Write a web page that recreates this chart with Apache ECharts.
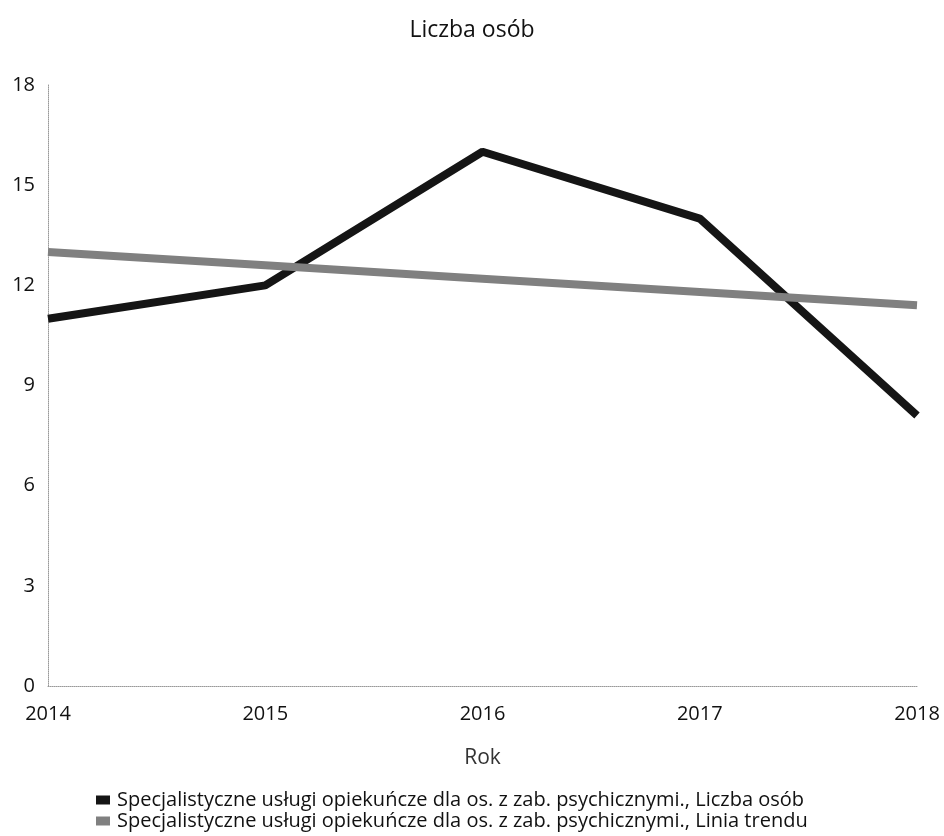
<!DOCTYPE html>
<html><head><meta charset="utf-8">
<script src="https://cdn.jsdelivr.net/npm/echarts@6/dist/echarts.min.js"></script>
<style>html,body{margin:0;padding:0;background:#fff}#c{width:944px;height:836px}</style>
</head><body><div id="c"></div>
<script>
const years = ['2014','2015','2016','2017','2018'];
const liczbaOsob = [11, 12, 16, 14, 8.1];
const liniaTrendu = [13.0, 12.6, 12.2, 11.8, 11.4];
const yTicks = [0, 3, 6, 9, 12, 15, 18];
const seriesNames = [
  'Specjalistyczne usługi opiekuńcze dla os. z zab. psychicznymi., Liczba osób',
  'Specjalistyczne usługi opiekuńcze dla os. z zab. psychicznymi., Linia trendu'
];
const font = '"Open Sans", "Noto Sans", sans-serif';
const chart = echarts.init(document.getElementById('c'));
chart.setOption({
  animation: false,
  backgroundColor: '#fff',
  textStyle: {fontFamily: font},
  title: {text: 'Liczba osób', left: 'center', top: 14,
    textStyle: {fontFamily: font, fontSize: 23, fontWeight: 'normal', color: '#111'}},
  legend: {
    orient: 'vertical', left: 96, top: 790, itemGap: 1, padding: 0, height: 46,
    itemWidth: 14, itemHeight: 9, icon: 'rect',
    textStyle: {fontFamily: font, fontSize: 20, lineHeight: 20, color: '#111', padding: [0,0,0,2]},
    data: seriesNames
  },
  grid: {left: 48, right: 27, top: 85, bottom: 150},
  xAxis: {
    type: 'category', data: years, boundaryGap: false,
    name: 'Rok', nameLocation: 'middle', nameGap: 62,
    nameTextStyle: {fontFamily: font, fontSize: 21, color: '#333'},
    axisLine: {lineStyle: {color: '#999', type: 'dotted'}},
    axisTick: {show: false},
    axisLabel: {fontFamily: font, fontSize: 20, color: '#111', margin: 18},
    splitLine: {show: false}
  },
  yAxis: {
    type: 'value', min: yTicks[0], max: yTicks[yTicks.length-1], interval: 3,
    axisLine: {show: true, lineStyle: {color: '#999', type: 'dotted'}},
    axisTick: {show: false},
    axisLabel: {fontFamily: font, fontSize: 20, color: '#111', margin: 13},
    splitLine: {show: false}
  },
  series: [
    {name: seriesNames[0], type: 'line', data: liczbaOsob, symbol: 'none',
     lineStyle: {color: '#151515', width: 8}, itemStyle: {color: '#151515'}},
    {name: seriesNames[1], type: 'line', data: liniaTrendu, symbol: 'none',
     lineStyle: {color: '#808080', width: 8}, itemStyle: {color: '#808080'}}
  ]
});
</script></body></html>
